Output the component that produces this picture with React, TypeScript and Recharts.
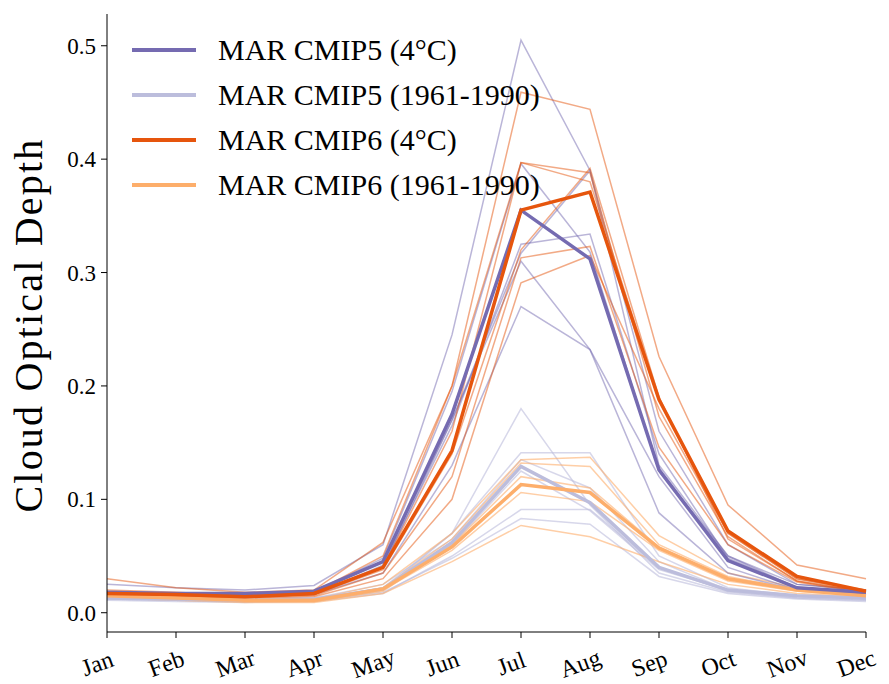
import React from "react";
import { LineChart, Line, XAxis, YAxis } from "recharts";

const months = ["Jan", "Feb", "Mar", "Apr", "May", "Jun", "Jul", "Aug", "Sep", "Oct", "Nov", "Dec"];
const yTicks = [0, 0.1, 0.2, 0.3, 0.4, 0.5];

// individual model runs, CMIP5 4°C
const cmip5Warm = [
  [0.025, 0.022, 0.02, 0.024, 0.06, 0.245, 0.505, 0.39, 0.16, 0.06, 0.025, 0.02],
  [0.018, 0.017, 0.016, 0.018, 0.048, 0.195, 0.396, 0.318, 0.125, 0.05, 0.025, 0.02],
  [0.016, 0.016, 0.015, 0.016, 0.042, 0.165, 0.325, 0.334, 0.14, 0.048, 0.022, 0.018],
  [0.017, 0.016, 0.016, 0.017, 0.04, 0.17, 0.31, 0.232, 0.088, 0.035, 0.02, 0.017],
  [0.015, 0.015, 0.014, 0.016, 0.035, 0.13, 0.27, 0.232, 0.12, 0.04, 0.02, 0.016],
  [0.018, 0.017, 0.017, 0.018, 0.045, 0.17, 0.317, 0.39, 0.13, 0.05, 0.022, 0.018],
];
// CMIP5 1961-1990
const cmip5Hist = [
  [0.012, 0.011, 0.01, 0.011, 0.02, 0.07, 0.18, 0.095, 0.035, 0.018, 0.013, 0.011],
  [0.013, 0.012, 0.011, 0.012, 0.022, 0.07, 0.141, 0.141, 0.05, 0.022, 0.015, 0.012],
  [0.014, 0.013, 0.012, 0.013, 0.025, 0.065, 0.135, 0.11, 0.045, 0.02, 0.015, 0.013],
  [0.011, 0.01, 0.009, 0.01, 0.017, 0.05, 0.091, 0.091, 0.04, 0.019, 0.013, 0.011],
  [0.012, 0.011, 0.01, 0.011, 0.018, 0.048, 0.083, 0.078, 0.032, 0.017, 0.012, 0.01],
  [0.013, 0.012, 0.011, 0.012, 0.021, 0.06, 0.125, 0.09, 0.038, 0.02, 0.014, 0.012],
];
// CMIP6 4°C
const cmip6Warm = [
  [0.03, 0.022, 0.018, 0.02, 0.062, 0.2, 0.459, 0.444, 0.226, 0.095, 0.042, 0.03],
  [0.02, 0.018, 0.015, 0.018, 0.05, 0.2, 0.397, 0.38, 0.188, 0.07, 0.03, 0.02],
  [0.018, 0.016, 0.014, 0.016, 0.04, 0.16, 0.397, 0.388, 0.173, 0.067, 0.028, 0.018],
  [0.016, 0.015, 0.013, 0.015, 0.035, 0.12, 0.313, 0.323, 0.146, 0.06, 0.027, 0.017],
  [0.015, 0.014, 0.012, 0.014, 0.03, 0.1, 0.291, 0.315, 0.18, 0.07, 0.03, 0.018],
  [0.017, 0.016, 0.014, 0.016, 0.038, 0.14, 0.32, 0.392, 0.19, 0.065, 0.028, 0.018],
];
// CMIP6 1961-1990
const cmip6Hist = [
  [0.016, 0.014, 0.012, 0.012, 0.025, 0.07, 0.135, 0.137, 0.068, 0.035, 0.022, 0.017],
  [0.015, 0.013, 0.011, 0.011, 0.022, 0.065, 0.132, 0.129, 0.06, 0.032, 0.02, 0.016],
  [0.014, 0.012, 0.01, 0.01, 0.02, 0.055, 0.106, 0.098, 0.055, 0.028, 0.019, 0.015],
  [0.013, 0.011, 0.009, 0.009, 0.017, 0.045, 0.077, 0.067, 0.045, 0.025, 0.017, 0.014],
  [0.014, 0.012, 0.01, 0.01, 0.019, 0.06, 0.12, 0.11, 0.058, 0.03, 0.02, 0.015],
];

// ensemble means (thick lines)
const mean5Warm = [0.018, 0.017, 0.017, 0.019, 0.045, 0.175, 0.355, 0.312, 0.126, 0.046, 0.022, 0.018];
const mean5Hist = [0.013, 0.012, 0.011, 0.012, 0.021, 0.062, 0.129, 0.097, 0.04, 0.02, 0.015, 0.013];
const mean6Warm = [0.017, 0.016, 0.014, 0.017, 0.04, 0.143, 0.355, 0.371, 0.188, 0.072, 0.032, 0.019];
const mean6Hist = [0.015, 0.013, 0.011, 0.011, 0.021, 0.058, 0.113, 0.106, 0.057, 0.03, 0.02, 0.015];

const DARK_PURPLE = "#756bb1";
const LIGHT_PURPLE = "#bcbddc";
const DARK_ORANGE = "#e6550d";
const LIGHT_ORANGE = "#fdae6b";
const FONT = "Liberation Serif, DejaVu Serif, serif";

const groups = [
  { key: "h5", runs: cmip5Hist, color: LIGHT_PURPLE, opacity: 0.6 },
  { key: "h6", runs: cmip6Hist, color: LIGHT_ORANGE, opacity: 0.6 },
  { key: "w5", runs: cmip5Warm, color: DARK_PURPLE, opacity: 0.5 },
  { key: "w6", runs: cmip6Warm, color: DARK_ORANGE, opacity: 0.5 },
];

const data = months.map((m, i) => {
  const row: any = { month: m, mh5: mean5Hist[i], mh6: mean6Hist[i], mw5: mean5Warm[i], mw6: mean6Warm[i] };
  groups.forEach((g) => g.runs.forEach((r, j) => (row[`${g.key}_${j}`] = r[i])));
  return row;
});

const legendItems = [
  { label: "MAR CMIP5 (4°C)", color: DARK_PURPLE },
  { label: "MAR CMIP5 (1961-1990)", color: LIGHT_PURPLE },
  { label: "MAR CMIP6 (4°C)", color: DARK_ORANGE },
  { label: "MAR CMIP6 (1961-1990)", color: LIGHT_ORANGE },
];

function MonthTick({ x, y, payload }: any) {
  return (
    <g transform={`translate(${x - 7},${y + 31})`}>
      <text transform="rotate(-20)" textAnchor="middle" fontFamily={FONT} fontSize={24} fill="#000">
        {payload.value}
      </text>
    </g>
  );
}

function YTitle({ viewBox }: any) {
  const cx = 28;
  const cy = viewBox.y + viewBox.height / 2 + 2;
  return (
    <text
      x={cx}
      y={cy}
      transform={`rotate(-90, ${cx}, ${cy})`}
      textAnchor="middle"
      dominantBaseline="central"
      fontFamily={FONT}
      fontSize={40}
      letterSpacing={2.2}
      fill="#000"
    >
      Cloud Optical Depth
    </text>
  );
}

export default function App() {
  return (
    <div style={{ position: "relative", width: 889, height: 684, background: "#fff" }}>
      <style>{"body{margin:0}"}</style>
      <LineChart width={889} height={684} data={data} margin={{ top: 14, right: 23, bottom: 0, left: 0 }}>
        <XAxis dataKey="month" height={52} stroke="#000" tickSize={6} tick={<MonthTick />} interval={0} />
        <YAxis
          width={107}
          domain={[-0.017, 0.528]}
          ticks={yTicks}
          allowDataOverflow
          stroke="#000"
          tickSize={6}
          tickFormatter={(v: number) => v.toFixed(1)}
          tick={{ fontFamily: FONT, fontSize: 23, fill: "#000", dx: -3 }}
          label={<YTitle />}
        />
        {groups.map((g) =>
          g.runs.map((_, j) => (
            <Line
              key={`${g.key}_${j}`}
              dataKey={`${g.key}_${j}`}
              stroke={g.color}
              strokeOpacity={g.opacity}
              strokeWidth={1.5}
              dot={false}
              activeDot={false}
              isAnimationActive={false}
            />
          ))
        )}
        <Line dataKey="mh5" stroke={LIGHT_PURPLE} strokeWidth={3.5} dot={false} isAnimationActive={false} />
        <Line dataKey="mh6" stroke={LIGHT_ORANGE} strokeWidth={3.5} dot={false} isAnimationActive={false} />
        <Line dataKey="mw5" stroke={DARK_PURPLE} strokeWidth={3.5} dot={false} isAnimationActive={false} />
        <Line dataKey="mw6" stroke={DARK_ORANGE} strokeWidth={3.5} dot={false} isAnimationActive={false} />
      </LineChart>
      <div style={{ position: "absolute", left: 132, top: 27, fontFamily: FONT, fontSize: 30 }}>
        {legendItems.map((it) => (
          <div key={it.label} style={{ display: "flex", alignItems: "center", height: 45 }}>
            <div style={{ width: 64, height: 4, background: it.color, marginRight: 22 }} />
            <span style={{ color: "#000", whiteSpace: "nowrap" }}>{it.label}</span>
          </div>
        ))}
      </div>
    </div>
  );
}
